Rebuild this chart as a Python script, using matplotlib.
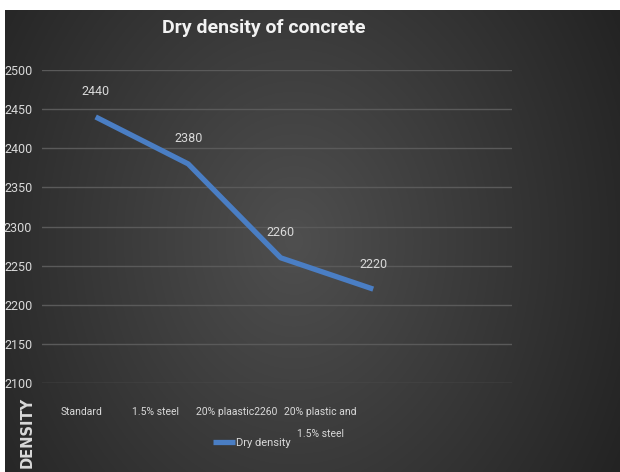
import numpy as np
import matplotlib.pyplot as plt

plt.rcParams['font.family'] = ['Roboto', 'DejaVu Sans']

categories = ['Standard', '1.5% steel', '20% plaastic2260', '20% plastic and\n1.5% steel']
dry_density = [2440, 2380, 2260, 2220]
y_ticks = [2100, 2150, 2200, 2250, 2300, 2350, 2400, 2450, 2500]
series_name = 'Dry density'
title = 'Dry density of concrete'
axis_label = 'DENSITY'

W, H = 620, 472
fig = plt.figure(figsize=(W / 100, H / 100), dpi=100)
fig.patch.set_facecolor('white')

# dark radial background like the Excel chart style
bg = fig.add_axes([5 / W, 0, 615 / W, 462 / H])
bg.axis('off')
yy, xx = np.mgrid[0:1:300j, 0:1:400j]
r = np.sqrt(((xx - 0.47) / 0.6) ** 2 + ((yy - 0.5) / 1.0) ** 2)
shade = np.clip(0.31 - 0.17 * r, 0.13, 0.32)
bg.imshow(np.dstack([shade] * 3), aspect='auto', extent=[0, 1, 0, 1])

ax = fig.add_axes([42 / W, 1 - 383 / H, 470 / W, 313 / H])
ax.set_facecolor('none')
for s in ax.spines.values():
    s.set_visible(False)

x = np.arange(len(dry_density))
ax.plot(x, dry_density, color='#4a7ec4', lw=3.8, solid_capstyle='butt',
        solid_joinstyle='round', label=series_name, zorder=3)
for xi, v in zip(x, dry_density):
    ax.annotate(str(v), (xi, v), xytext=(0, 18), textcoords='offset points',
                ha='center', va='center', color='#d9d9d9', fontsize=9)

ax.set_xlim(-0.58, 4.5)
ax.set_ylim(2100, 2500)
ax.set_yticks(y_ticks)
ax.grid(axis='y', color='#5a5a5a', lw=1)
ax.set_axisbelow(True)

# category labels sit left of their points in the original
ax.set_xticks([-0.15, 0.65, 1.52, 2.43])
ax.set_xticklabels(categories, linespacing=2.6, va='top', fontsize=7.5)
ax.tick_params(axis='both', length=0, colors='#d9d9d9')
ax.tick_params(axis='x', pad=17)
ax.tick_params(axis='y', pad=7, labelsize=9)

fig.text(264 / W, 1 - 33 / H, title, ha='center', va='baseline',
         fontsize=14, fontweight='bold', color='#f2f2f2')
fig.text(27 / W, 1 - 432 / H, axis_label, rotation=90, ha='center', va='center',
         fontsize=10.5, fontweight='bold', color='#d9d9d9', family='DejaVu Sans')

leg = fig.legend(loc='center', bbox_to_anchor=(252 / W, 1 - 443 / H), frameon=False,
                 handlelength=2.0, handletextpad=0.1, fontsize=8)
for t in leg.get_texts():
    t.set_color('#d9d9d9')

fig.savefig('out.png', dpi=100)
